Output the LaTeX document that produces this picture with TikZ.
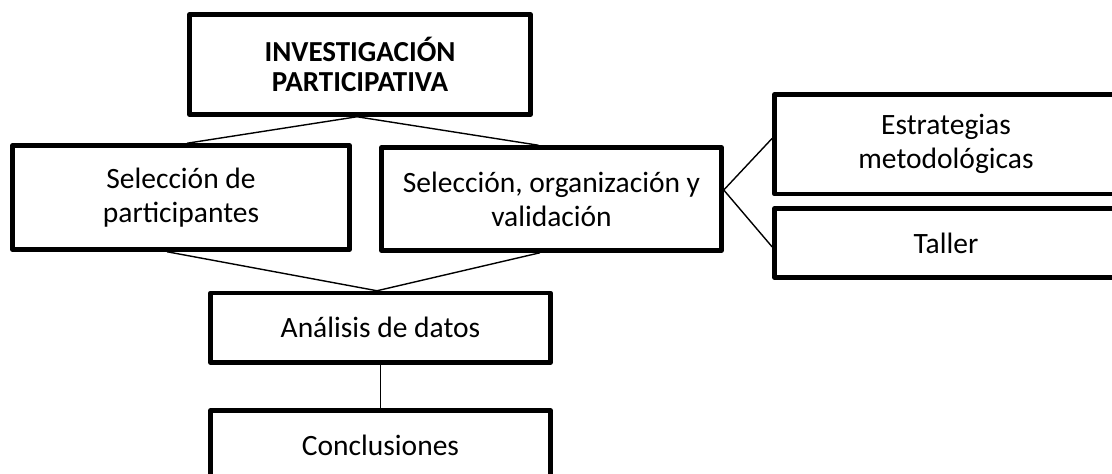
\documentclass[tikz,border=0pt]{standalone}
\usepackage{fontspec}
\setmainfont{Carlito}
\begin{document}
\begin{tikzpicture}[x=1pt,y=-1pt,
  box/.style={draw=black, line width=4.5pt, line join=round, fill=white, inner sep=0pt,
    align=center, font=\fontsize{29.5}{34}\selectfont},
  conn/.style={draw=black, line width=1.4pt}]
\clip (0,0) rectangle (1112,474);
\fill[white] (0,0) rectangle (1112,474);
\node[box, minimum width=341pt, minimum height=100pt,
  font=\fontsize{29}{30}\selectfont\bfseries] (inv) at (360,64.5) {INVESTIGACIÓN\\PARTICIPATIVA};
\node[box, minimum width=337pt, minimum height=104pt] (sp) at (181,197.5) {Selección de\\participantes};
\node[box, minimum width=340pt, minimum height=103pt] (soy) at (551.5,199) {Selección, organización y\\validación};
\node[box, minimum width=343pt, minimum height=99.5pt] (est) at (946,144.25) {Estrategias\\metodológicas};
\node[box, minimum width=343pt, minimum height=69pt] (tal) at (946,243) {Taller};
\node[box, minimum width=340pt, minimum height=69.5pt] (ana) at (380.5,327.75) {Análisis de datos};
\node[box, minimum width=340pt, minimum height=69.5pt] (con) at (380.5,445.25) {Conclusiones};
\draw[conn] ([xshift=-3pt]inv.south) -- ([xshift=6pt]sp.north);
\draw[conn] ([xshift=-3pt]inv.south) -- ([xshift=-13pt]soy.north);
\draw[conn] ([xshift=-14pt]sp.south) -- ([xshift=-3.5pt]ana.north);
\draw[conn] ([xshift=-11.5pt]soy.south) -- ([xshift=-3.5pt]ana.north);
\draw[conn] ([yshift=9pt]soy.east) -- ([yshift=6pt]est.west);
\draw[conn] ([yshift=9pt]soy.east) -- ([yshift=-4pt]tal.west);
\draw[conn] (ana.south) -- (con.north);
\end{tikzpicture}
\end{document}
